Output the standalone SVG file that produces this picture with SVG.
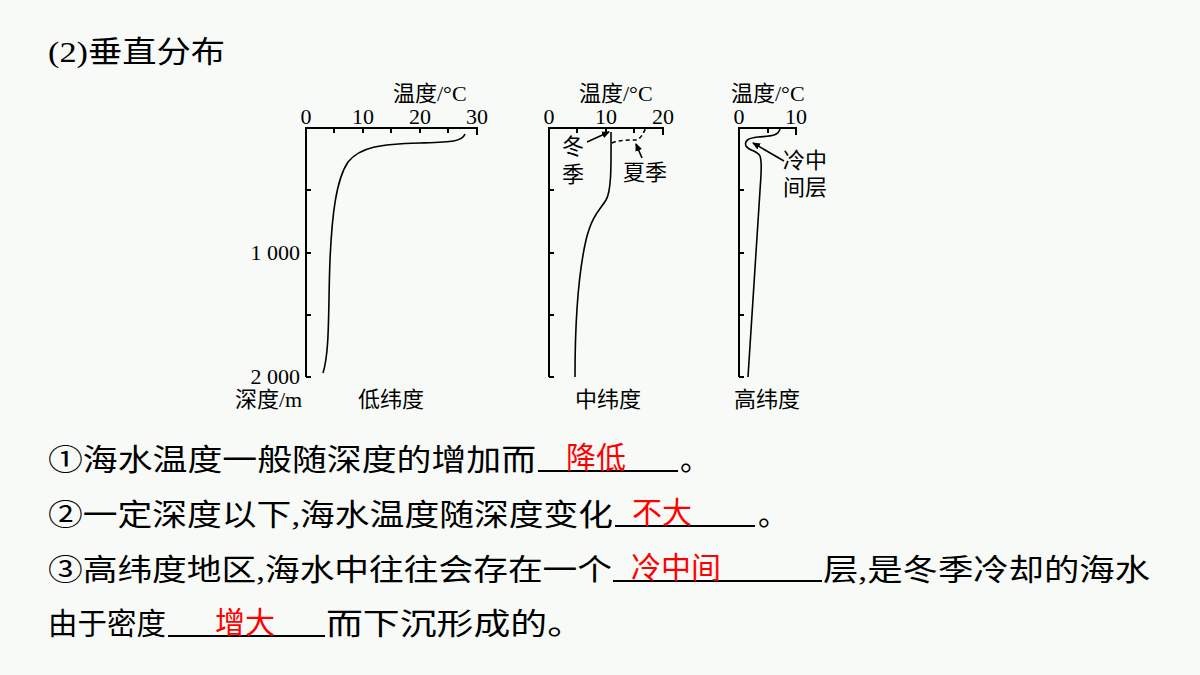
<svg xmlns="http://www.w3.org/2000/svg" width="1200" height="675" viewBox="0 0 1200 675">
<style>
.t{font-family:"Liberation Serif","Noto Sans CJK SC",serif;font-size:30px;fill:#000}
.r{font-family:"Noto Sans CJK SC",sans-serif;font-size:30px;fill:#ff0000}
.s{font-family:"Liberation Serif","Noto Sans CJK SC",serif;font-size:22px;fill:#000}
.ax{stroke:#000;stroke-width:2;fill:none}
.c{stroke:#000;stroke-width:1.6;fill:none}
.u{stroke:#000;stroke-width:2}
</style>
<defs><marker id="ar" markerWidth="8" markerHeight="8" refX="7" refY="4" orient="auto" markerUnits="userSpaceOnUse"><path d="M0,0.5 L8,4 L0,7.5 Z" fill="#000"/></marker></defs>
<rect width="1200" height="675" fill="#f7faf6"/>
<text class="t" x="48" y="62" textLength="177" lengthAdjust="spacingAndGlyphs">(2)垂直分布</text>
<g id="chart-low">
<path class="ax" d="M306,377 V128 H477 V135"/>
<path class="ax" d="M334,128v5M363,128v5M391,128v5M420,128v5M448,128v5M306,190h5M306,253h5M306,315h5M306,377h5"/>
<text class="s" x="393" y="101">温度/°C</text>
<text class="s" x="306" y="124" text-anchor="middle">0</text>
<text class="s" x="363" y="124" text-anchor="middle">10</text>
<text class="s" x="420" y="124" text-anchor="middle">20</text>
<text class="s" x="477" y="124" text-anchor="middle">30</text>
<text class="s" x="300" y="260" text-anchor="end">1 000</text>
<text class="s" x="300" y="384" text-anchor="end">2 000</text>
<text class="s" x="235" y="407">深度/m</text>
<text class="s" x="358" y="407">低纬度</text>
<path class="c" d="M465,134 C462,142 450,142 420,143 C380,144 360,147 348,162 C336,180 332,215 330,260 C328,310 330,350 323,373"/>
</g>
<g id="chart-mid">
<path class="ax" d="M549,377 V128 H663 V135"/>
<path class="ax" d="M577,128v5M606,128v5M634,128v5M549,190h5M549,253h5M549,315h5M549,377h5"/>
<text class="s" x="579" y="101">温度/°C</text>
<text class="s" x="549" y="124" text-anchor="middle">0</text>
<text class="s" x="606" y="124" text-anchor="middle">10</text>
<text class="s" x="663" y="124" text-anchor="middle">20</text>
<text class="s" x="575" y="407">中纬度</text>
<path class="c" d="M611,132 C611,160 612,190 606,200 C600,210 592,215 586,240 C578,275 575,320 575,377"/>
<path class="c" stroke-dasharray="4,3" d="M612,143 C618,140 628,140 636,140 C641,139 643,133 646,128"/>
<text class="s" x="562" y="154">冬</text>
<text class="s" x="562" y="182">季</text>
<text class="s" x="623" y="180">夏季</text>
</g>
<g id="chart-high">
<path class="ax" d="M739,377 V128 H796 V135"/>
<path class="ax" d="M768,128v5M739,190h5M739,253h5M739,315h5M739,377h5"/>
<text class="s" x="731" y="101">温度/°C</text>
<text class="s" x="739" y="124" text-anchor="middle">0</text>
<text class="s" x="796" y="124" text-anchor="middle">10</text>
<text class="s" x="734" y="407">高纬度</text>
<path class="c" d="M780,129 C778,137 768,136 758,137 C748,138 744,141 746,146 C749,151 757,150 760,156 C762,162 761,170 761,175 L748,377"/>
<text class="s" x="783" y="168">冷中</text>
<text class="s" x="783" y="195">间层</text>
</g>
<g id="connectors">
<line class="c" x1="587" y1="142" x2="609" y2="132" marker-end="url(#ar)"/>
<line class="c" x1="642" y1="158" x2="636" y2="144" marker-end="url(#ar)"/>
<line class="c" x1="784" y1="161" x2="753" y2="143" marker-end="url(#ar)"/>
</g>
<g id="text">
<text class="t" x="48" y="470" textLength="488" lengthAdjust="spacingAndGlyphs">①海水温度一般随深度的增加而</text>
<line class="u" x1="538" y1="471" x2="678" y2="471"/>
<text class="r" x="566" y="468">降低</text>
<text class="t" x="680" y="470">。</text>
<text class="t" x="48" y="525" textLength="565" lengthAdjust="spacingAndGlyphs">②一定深度以下,海水温度随深度变化</text>
<line class="u" x1="615" y1="526" x2="755" y2="526"/>
<text class="r" x="632" y="523">不大</text>
<text class="t" x="758" y="525">。</text>
<text class="t" x="48" y="580" textLength="564" lengthAdjust="spacingAndGlyphs">③高纬度地区,海水中往往会存在一个</text>
<line class="u" x1="613" y1="581" x2="822" y2="581"/>
<text class="r" x="631" y="578">冷中间</text>
<text class="t" x="823" y="580" textLength="327" lengthAdjust="spacingAndGlyphs">层,是冬季冷却的海水</text>
<text class="t" x="48" y="634" textLength="118" lengthAdjust="spacingAndGlyphs">由于密度</text>
<line class="u" x1="168" y1="636" x2="325" y2="636"/>
<text class="r" x="215" y="633">增大</text>
<text class="t" x="326" y="634" textLength="258" lengthAdjust="spacingAndGlyphs">而下沉形成的。</text>
</g>
</svg>
